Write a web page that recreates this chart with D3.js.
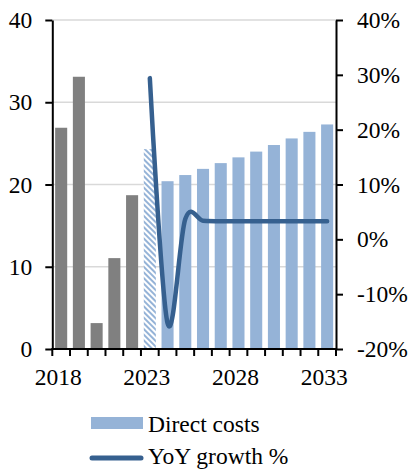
<!DOCTYPE html>
<html><head><meta charset="utf-8">
<script src="https://cdn.jsdelivr.net/npm/d3@7"></script>
<style>html,body{margin:0;padding:0;background:#fff}svg{display:block}</style>
</head><body>
<svg id="c" width="410" height="470"></svg>
<script>
const years = [2018,2019,2020,2021,2022,2023,2024,2025,2026,2027,2028,2029,2030,2031,2032,2033];
const directCosts = [26.9,33.1,3.15,11.05,18.7,24.3,20.4,21.15,21.9,22.6,23.3,24.0,24.8,25.6,26.4,27.3];
const barKind = ["hist","hist","hist","hist","hist","est","fc","fc","fc","fc","fc","fc","fc","fc","fc","fc"];
const growthYears = [2023,2024,2025,2026,2027,2028,2029,2030,2031,2032,2033];
const yoyGrowth = [29.4,-15.3,3.7,3.4,3.3,3.3,3.3,3.3,3.3,3.3,3.3];
const leftTicks = [0,10,20,30,40];
const rightTicks = [-20,-10,0,10,20,30,40];
const xLabels = [2018,2023,2028,2033];
const legendLabels = ["Direct costs","YoY growth %"];

const svg = d3.select("#c");
const L = 52.3, R = 336, T = 20, B = 349;
const FONT = "'Liberation Serif','Times New Roman',serif";
const FS = 23.5;
const GRAY = "#808080", BLUE = "#95b3d7", LINE = "#36608f";

const x = d3.scaleBand().domain(years).range([L, R]).paddingInner(0.32).paddingOuter(0.16);
const y = d3.scaleLinear().domain([0,40]).range([B, T]);
const y2 = d3.scaleLinear().domain([-20,40]).range([B, T]);

const defs = svg.append("defs");
const pat = defs.append("pattern").attr("id","hatch").attr("patternUnits","userSpaceOnUse")
  .attr("width",4).attr("height",4).attr("patternTransform","rotate(-45)");
pat.append("rect").attr("width",4).attr("height",4).attr("fill","#fff");
pat.append("rect").attr("width",2).attr("height",4).attr("fill",BLUE);

// gridlines
svg.append("g").selectAll("line").data(leftTicks.filter(d=>d>0)).join("line")
  .attr("x1",L).attr("x2",R).attr("y1",d=>y(d)).attr("y2",d=>y(d))
  .attr("stroke","#d9d9d9").attr("stroke-width",1.5);

// bars
svg.append("g").selectAll("rect").data(years).join("rect")
  .attr("x",d=>x(d)).attr("width",x.bandwidth())
  .attr("y",(d,i)=>y(directCosts[i])).attr("height",(d,i)=>y(0)-y(directCosts[i]))
  .attr("fill",(d,i)=>barKind[i]==="hist"?GRAY:barKind[i]==="est"?"url(#hatch)":BLUE);

// left axis
const ga = svg.append("g").attr("transform",`translate(${L},0)`)
  .call(d3.axisLeft(y).tickValues(leftTicks).tickSize(7).tickSizeOuter(0).tickPadding(13));
// right axis
const gb = svg.append("g").attr("transform",`translate(${R},0)`)
  .call(d3.axisRight(y2).tickValues(rightTicks).tickSize(7).tickSizeOuter(0).tickPadding(14).tickFormat(d=>String(d)+"%"));
[ga,gb].forEach(g=>{
  g.selectAll("path,line").attr("stroke","#000").attr("stroke-width",2);
  g.selectAll("text").attr("font-family",FONT).attr("font-size",FS).attr("fill","#000");
});

// bottom axis
const step = x.step();
const bnd = d3.range(years.length+1).map(i=>L+i*step);
svg.append("g").selectAll("line").data(bnd).join("line")
  .attr("x1",d=>d).attr("x2",d=>d).attr("y1",B).attr("y2",B+7)
  .attr("stroke","#000").attr("stroke-width",2);
svg.append("line").attr("x1",L-1).attr("x2",R+1).attr("y1",B).attr("y2",B)
  .attr("stroke","#000").attr("stroke-width",2);
svg.append("g").selectAll("text").data(xLabels).join("text")
  .attr("x",d=>x(d)+x.bandwidth()/2-3).attr("y",385).attr("text-anchor","middle")
  .attr("font-family",FONT).attr("font-size",FS).attr("fill","#000").text(d=>d);

// line
const line = d3.line().x((d,i)=>x(growthYears[i])+x.bandwidth()/2).y(d=>y2(d)).curve(d3.curveCardinal.tension(0));
svg.append("path").datum(yoyGrowth).attr("d",line).attr("fill","none")
  .attr("stroke",LINE).attr("stroke-width",4.5).attr("stroke-linecap","round").attr("stroke-linejoin","round");

// legend
svg.append("rect").attr("x",91).attr("y",417).attr("width",52).attr("height",12).attr("fill",BLUE);
svg.append("line").attr("x1",92).attr("x2",141).attr("y1",458).attr("y2",458)
  .attr("stroke",LINE).attr("stroke-width",5).attr("stroke-linecap","round");
svg.append("g").selectAll("text").data(legendLabels).join("text")
  .attr("x",148).attr("y",(d,i)=>i===0?432:464)
  .attr("font-family",FONT).attr("font-size",FS).attr("fill","#000").text(d=>d);
</script>
</body></html>
